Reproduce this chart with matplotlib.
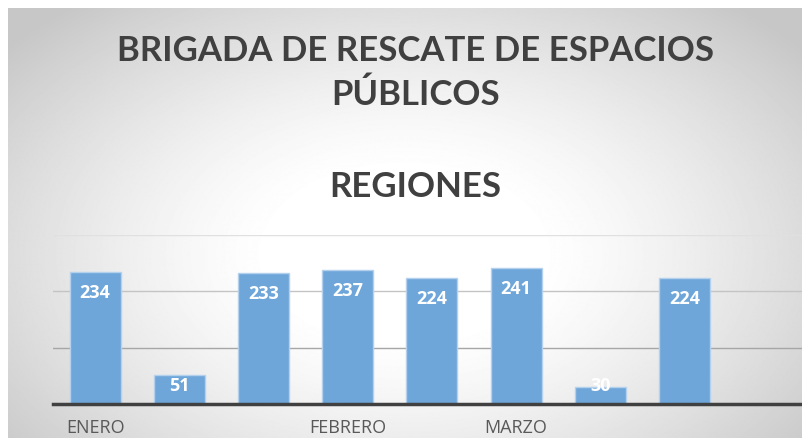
import numpy as np
import matplotlib.pyplot as plt

meses = ["ENERO", "", "", "FEBRERO", "", "MARZO", "", ""]
valores = [234, 51, 233, 237, 224, 241, 30, 224]
titulo = ["BRIGADA DE RESCATE DE ESPACIOS", "PÚBLICOS"]
subtitulo = "REGIONES"

W, H, DPI = 803, 438, 100
fig = plt.figure(figsize=(W / DPI, H / DPI), dpi=DPI)
fig.patch.set_facecolor("white")

# fondo con degradado radial (blanco al centro, gris en los bordes)
bg = fig.add_axes([8 / W, 0, 1 - 8 / W, 1 - 8 / H])
yy, xx = np.mgrid[0:H, 0:W]
r = np.sqrt(((xx - 400) / 520.0) ** 2 + ((yy - 250) / 330.0) ** 2)
r = np.clip((r - 0.25) / 0.75, 0, 1)
g = 1.0 - 0.22 * r ** 1.3
bg.imshow(g, cmap="gray", vmin=0, vmax=1, aspect="auto", interpolation="bilinear")
bg.set_axis_off()

# titulos (posicion por linea de base, en pixeles)
for txt, base in zip(titulo + [subtitulo], [61, 105, 197]):
    fig.text(0.517, 1 - base / H, txt, ha="center", va="baseline", fontsize=25,
             fontweight="bold", color="#404040", family="Lato")

slot = 84.2
ax = fig.add_axes([53 / W, 1 - 404 / H, 9 * slot / W, (404 - 235) / H])
ax.patch.set_alpha(0)
x = np.arange(len(valores))
bars = ax.bar(x, valores, width=0.607, color="#6fa6da", edgecolor="#b3d1ec",
              linewidth=1, zorder=3)
ax.set_xlim(-0.5, 8.5)
ax.set_ylim(0, 300)
ax.set_yticks([0, 100, 200, 300])
ax.set_yticklabels([])
ax.tick_params(axis="y", length=0)
ax.grid(axis="y", linewidth=1, zorder=0)
for gl, c in zip(ax.get_ygridlines(), ["none", "#a6a6a6", "#c4c4c4", "#e0e0e0"]):
    gl.set_color(c)
ax.set_xticks(x)
ax.set_xticklabels(meses, fontsize=13, color="#595959", family="Open Sans")
ax.tick_params(axis="x", length=0, pad=11)
for s in ["top", "right", "left"]:
    ax.spines[s].set_visible(False)
ax.spines["bottom"].set_color("#404040")
ax.spines["bottom"].set_linewidth(2.5)
ax.spines["bottom"].set_zorder(4)

px_per_unit = (404 - 235) / 300.0
for xi, v in zip(x, valores):
    hpx = v * px_per_unit
    ypx = max(hpx - 21, 18)
    ax.text(xi, ypx / px_per_unit, str(v), ha="center", va="center", fontsize=13,
            fontweight="bold", color="white", family="Open Sans", zorder=5)

fig.savefig("out.png", dpi=DPI)
